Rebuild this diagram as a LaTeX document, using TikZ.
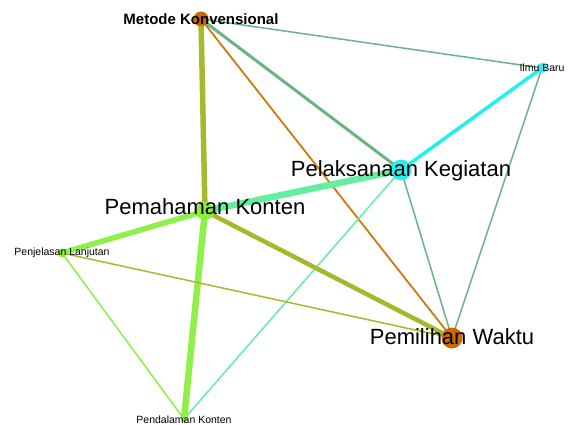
\documentclass[tikz,border=0pt]{standalone}
\usepackage{fontspec}
\setmainfont{Liberation Sans}
\usetikzlibrary{backgrounds}
\definecolor{orn}{HTML}{CC6A00}
\definecolor{cyn}{HTML}{30EEEE}
\definecolor{grn}{HTML}{8CEE40}
\definecolor{olive}{HTML}{A8B82C}
\definecolor{sage}{HTML}{68B482}
\definecolor{mint}{HTML}{62F0A0}
\definecolor{lgrn}{HTML}{8EF048}
\definecolor{edgeorn}{HTML}{CC7A10}
\definecolor{edgecyn}{HTML}{22F0F0}
\tikzset{
  vert/.style={circle, inner sep=0pt, draw=none},
  big/.style={font=\fontsize{22}{22}\selectfont, anchor=base, inner sep=0pt},
  small/.style={font=\fontsize{10.5}{10.5}\selectfont, anchor=base, inner sep=0pt},
  head/.style={font=\bfseries\fontsize{15}{15}\selectfont, anchor=base, inner sep=0pt},
  lnk/.style={line cap=round}
}
\begin{document}
\begin{tikzpicture}[x=1pt, y=-1pt]
\useasboundingbox (0,0) rectangle (570,425);
% vertices
\node[vert, fill=orn, minimum size=15pt] (mk) at (201,19) {};
\node[vert, fill=cyn, minimum size=10pt] (ib) at (542,68) {};
\node[vert, fill=cyn, minimum size=21pt] (pk) at (401,170) {};
\node[vert, fill=grn, minimum size=18pt] (pm) at (205,211) {};
\node[vert, fill=grn, minimum size=9pt] (pl) at (62,253) {};
\node[vert, fill=grn, minimum size=6pt] (pd) at (184,419) {};
\node[vert, fill=orn, minimum size=21pt] (pw) at (452,338) {};
% edges
\begin{scope}[on background layer]
\fill[white] (0,0) rectangle (570,425);
\draw[lnk, olive, line width=5.5pt] (mk.center) -- (pm.center);
\draw[lnk, edgeorn, line width=1.8pt] (mk.center) -- (pw.center);
\draw[lnk, sage, line width=3pt] (mk.center) -- (pk.center);
\draw[lnk, sage, line width=1.5pt] (mk.center) -- (ib.center);
\draw[lnk, edgecyn, line width=3.5pt] (ib.center) -- (pk.center);
\draw[lnk, sage, line width=1.5pt] (ib.center) -- (pw.center);
\draw[lnk, mint, line width=6.5pt] (pk.center) -- (pm.center);
\draw[lnk, sage, line width=1.5pt] (pk.center) -- (pw.center);
\draw[lnk, mint, line width=1.5pt] (pk.center) -- (pd.center);
\draw[lnk, lgrn, line width=5.5pt] (pm.center) -- (pl.center);
\draw[lnk, olive, line width=4.5pt] (pm.center) -- (pw.center);
\draw[lnk, lgrn, line width=6.5pt] (pm.center) -- (pd.center);
\draw[lnk, olive, line width=1.5pt] (pl.center) -- (pw.center);
\draw[lnk, lgrn, line width=1.5pt] (pl.center) -- (pd.center);
\end{scope}
% labels
\node[head] (mkl) at ([yshift=-5.4pt]mk) {Metode Konvensional};
\node[small] (ibl) at ([yshift=-3.2pt]ib) {Ilmu Baru};
\node[big] (pkl) at ([yshift=-6.5pt]pk) {Pelaksanaan Kegiatan};
\node[big] (pml) at ([yshift=-3.5pt]pm) {Pemahaman Konten};
\node[small] (pll) at ([yshift=-2.2pt]pl) {Penjelasan Lanjutan};
\node[small] (pdl) at ([yshift=-4.2pt]pd) {Pendalaman Konten};
\node[big] (pwl) at ([yshift=-6.5pt]pw) {Pemilihan Waktu};
\end{tikzpicture}
\end{document}
